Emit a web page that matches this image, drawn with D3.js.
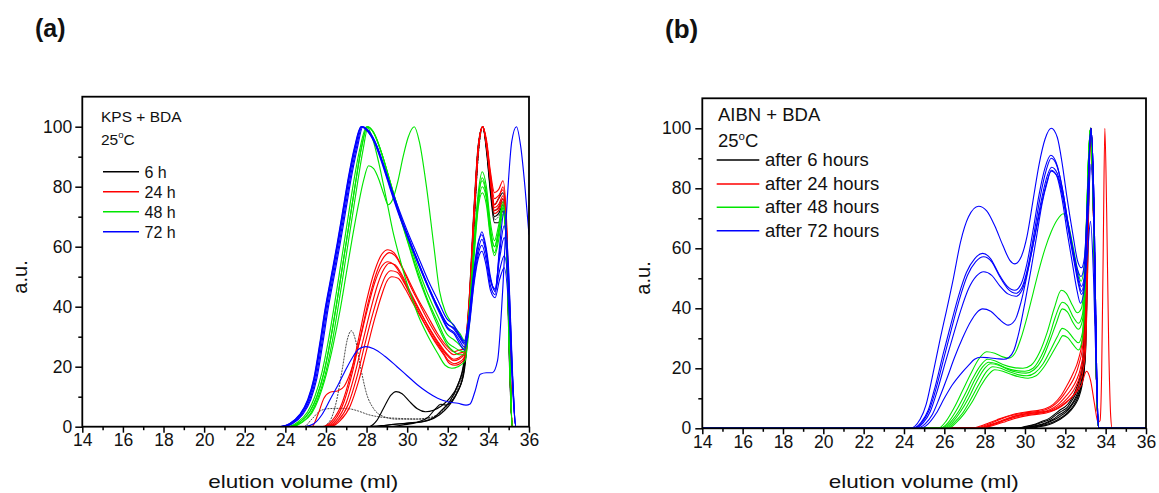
<!DOCTYPE html>
<html><head><meta charset="utf-8">
<script src="https://cdn.jsdelivr.net/npm/d3@7"></script>
<style>
html,body{margin:0;padding:0;background:#fff;}
svg text{font-family:Arial,"Liberation Sans",sans-serif;fill:#111;}
</style></head><body>
<svg id="fig" width="1159" height="493"></svg>
<script>
// ---- axis ticks ----
const xMajorTicks = [14,16,18,20,22,24,26,28,30,32,34,36];
const xMinorTicks = [15,17,19,21,23,25,27,29,31,33,35];
const yMajorTicks = [0,20,40,60,80,100];
const yMinorTicks = [10,30,50,70,90];

// ---- (a) KPS + BDA, elution traces [ml, a.u.] ----
const kps6h = [
  [[25.8,0],[26.2,2],[26.5,8],[26.8,19],[27.05,29],[27.25,32],[27.45,29],[27.7,20],[28.0,11],[28.35,6],[28.8,3.5],[29.5,2.5],[30.5,2.5],[31.2,3],[31.7,5],[32.1,8],[32.5,13],[32.8,20],[33.05,38],[33.3,70],[33.5,92],[33.7,100],[33.9,93],[34.1,80],[34.3,71],[34.5,72],[34.72,75],[34.9,62],[35.05,25],[35.18,0]],
  [[24.9,0],[25.3,2.5],[25.7,5.2],[26.1,6],[26.6,6.1],[27.1,6],[27.6,5.2],[28.1,4],[28.6,3.3],[29.5,2.8],[30.5,2.6],[31.2,3.2],[31.7,5],[32.1,8],[32.5,12],[32.8,19],[33.05,36],[33.3,68],[33.5,90],[33.72,100],[33.92,94],[34.1,82],[34.3,69],[34.5,70],[34.72,73],[34.9,60],[35.05,22],[35.18,0]],
  [[28.1,0],[28.5,2],[28.9,7],[29.2,10.5],[29.45,11.7],[29.75,11],[30.1,8.5],[30.5,6],[30.9,5],[31.3,5.5],[31.7,7],[32.1,9.5],[32.5,14],[32.8,21],[33.05,40],[33.3,72],[33.5,93],[33.72,100],[33.92,93],[34.1,81],[34.3,74],[34.5,76],[34.72,78],[34.9,64],[35.05,24],[35.18,0]],
  [[28.0,0],[29.0,0.5],[30.0,1.2],[30.8,1.8],[31.3,3],[31.7,5.5],[32.1,8.5],[32.5,14],[32.8,22],[33.05,42],[33.3,74],[33.5,94],[33.72,100],[33.92,92],[34.1,79],[34.3,70],[34.5,71],[34.72,74],[34.9,60],[35.05,20],[35.18,0]],
  [[29.2,0],[29.8,0.6],[30.5,1.5],[31.0,3],[31.4,6],[31.65,7.5],[31.9,7.2],[32.2,8.5],[32.5,12],[32.8,18],[33.05,37],[33.3,70],[33.5,92],[33.72,100],[33.92,91],[34.1,78],[34.3,68],[34.5,68],[34.72,72],[34.9,58],[35.05,18],[35.18,0]],
  [[28.4,0],[29.3,0.8],[30.2,1.2],[31.0,2],[31.6,4],[32.0,6.5],[32.4,10.5],[32.75,17],[33.0,32],[33.3,68],[33.5,91],[33.72,100],[33.92,93],[34.1,80],[34.3,72],[34.5,73],[34.72,76],[34.9,61],[35.05,22],[35.18,0]]
];
const kps24h = [
  [[25.8,0],[26.3,2],[26.8,8],[27.2,17],[27.6,29],[28.0,42],[28.4,52],[28.75,57.5],[29.05,59],[29.35,58],[29.7,54],[30.1,48.5],[30.5,43],[31.0,37],[31.5,31],[32.0,26.5],[32.3,25],[32.55,25.5],[32.8,26],[33.05,42],[33.3,73],[33.5,93],[33.72,100],[33.92,95],[34.1,85],[34.3,78],[34.5,79],[34.72,82],[34.9,68],[35.05,28],[35.18,0]],
  [[25.9,0],[26.4,2],[26.9,8.5],[27.3,18],[27.7,30],[28.1,42],[28.5,51.5],[28.85,56.5],[29.12,58],[29.4,57],[29.75,53],[30.15,47],[30.6,41],[31.1,34.5],[31.6,29],[32.0,25.5],[32.3,24],[32.55,24.5],[32.8,25],[33.05,41],[33.3,72],[33.5,93],[33.72,100],[33.92,94],[34.1,83],[34.3,74],[34.5,76],[34.72,80],[34.9,66],[35.05,26],[35.18,0]],
  [[25.3,0],[25.6,4],[25.9,9.5],[26.2,11.5],[26.6,12],[26.9,13.5],[27.2,18],[27.6,27],[28.0,38],[28.4,48],[28.75,53.5],[29.05,55],[29.35,54],[29.7,50.5],[30.1,45],[30.5,40],[31.0,34],[31.5,28.5],[32.0,24],[32.3,22.5],[32.55,23],[32.8,24.5],[33.05,40],[33.3,72],[33.5,93],[33.72,100],[33.92,94],[34.1,84],[34.3,76],[34.5,77],[34.72,79],[34.9,65],[35.05,25],[35.18,0]],
  [[26.0,0],[26.5,2],[27.0,8],[27.4,17],[27.8,28],[28.2,39],[28.55,47.5],[28.85,52.5],[29.12,54.5],[29.4,54],[29.75,50.5],[30.15,45],[30.6,39],[31.1,32.5],[31.6,27],[32.0,23.5],[32.3,22],[32.55,22.5],[32.8,24],[33.05,40],[33.3,72],[33.5,93],[33.72,100],[33.92,94],[34.1,83],[34.3,73],[34.5,74],[34.72,77],[34.9,63],[35.05,24],[35.18,0]],
  [[26.1,0],[26.6,2],[27.1,7.5],[27.5,16],[27.9,27],[28.3,37.5],[28.65,45.5],[28.95,50.5],[29.2,52],[29.5,51.5],[29.85,48],[30.25,42.5],[30.7,36.5],[31.2,30.5],[31.7,25.5],[32.05,22],[32.3,21],[32.55,21.5],[32.8,23],[33.05,39],[33.3,71],[33.5,92],[33.72,100],[33.92,93],[34.1,82],[34.3,72],[34.5,73],[34.72,76],[34.9,62],[35.05,23],[35.18,0]],
  [[26.2,0],[26.7,2],[27.2,7],[27.6,15],[28.0,25.5],[28.4,36],[28.75,44],[29.0,48.5],[29.25,50],[29.55,49.5],[29.9,46],[30.3,41],[30.8,35],[31.3,29],[31.8,24],[32.1,21],[32.35,20.5],[32.6,21],[32.85,23],[33.05,38],[33.3,70],[33.5,92],[33.72,100],[33.92,93],[34.1,82],[34.3,71],[34.5,72],[34.72,75],[34.9,61],[35.05,22],[35.18,0]]
];
const kps48h = [
  [[24.1,0],[24.6,1.5],[25.1,5],[25.45,10],[25.8,18],[26.1,28],[26.45,42],[26.75,55],[27.05,68],[27.35,81],[27.65,92],[28.0,100],[28.3,98.5],[28.7,92],[29.1,83],[29.5,74],[30.0,63.5],[30.5,53.5],[31.0,44.5],[31.5,37],[32.0,30.5],[32.3,29],[32.55,27.5],[32.8,26],[33.05,38],[33.3,62],[33.5,78],[33.7,85],[33.9,80],[34.1,68],[34.3,62],[34.5,67],[34.72,75],[34.9,62],[35.05,24],[35.18,0]],
  [[24.2,0],[24.7,1.5],[25.2,5],[25.55,10],[25.9,18],[26.2,28],[26.55,42],[26.85,55],[27.15,68],[27.45,81],[27.75,93],[28.05,100],[28.35,98],[28.75,91],[29.15,82],[29.55,72.5],[30.0,62.5],[30.5,52],[31.0,42.5],[31.5,35],[32.0,28],[32.3,26.5],[32.55,25.5],[32.8,25],[33.05,37],[33.3,60],[33.5,76],[33.7,83],[33.9,78],[34.1,66],[34.3,60],[34.5,65],[34.72,73],[34.9,60],[35.05,22],[35.18,0]],
  [[24.25,0],[24.75,1.3],[25.25,4.5],[25.6,9.5],[25.95,17],[26.3,28],[26.65,42],[26.95,55],[27.25,68],[27.55,81],[27.82,92],[28.08,100],[28.4,97.5],[28.8,90],[29.2,80.5],[29.6,71],[30.05,61],[30.55,50],[31.05,41],[31.55,33],[32.0,27],[32.3,25],[32.55,24],[32.8,24],[33.05,36],[33.3,59],[33.5,74],[33.7,80],[33.9,76],[34.1,64],[34.3,58],[34.5,64],[34.72,74],[34.9,60],[35.05,22],[35.18,0]],
  [[24.3,0],[24.8,1.3],[25.3,4.5],[25.65,9.5],[26.0,17],[26.35,27],[26.7,39],[27.0,51],[27.3,63],[27.6,74],[27.85,82],[28.1,87],[28.35,86],[28.6,82.5],[28.85,77.5],[29.06,74],[29.3,76],[29.55,82],[29.8,90],[30.05,96.5],[30.35,100],[30.6,95],[30.95,80],[31.3,61],[31.6,45],[31.9,38],[32.15,35],[32.6,31],[32.85,28.5],[33.05,38],[33.3,60],[33.5,76],[33.7,82],[33.9,77],[34.1,65],[34.3,60],[34.5,65],[34.72,73],[34.9,60],[35.05,22],[35.18,0]],
  [[24.2,0],[24.7,1.5],[25.2,5],[25.55,10],[25.9,18],[26.2,28],[26.55,42],[26.85,55],[27.15,68],[27.45,81],[27.75,93],[28.02,100],[28.3,96],[28.6,88],[28.85,80],[29.06,73],[29.3,65],[29.56,58],[30.0,47.5],[30.55,37],[31.0,30.5],[31.5,24.5],[31.87,20.5],[32.2,19.5],[32.5,20],[32.85,22],[33.05,33],[33.3,57],[33.5,73],[33.7,78],[33.9,74],[34.1,63],[34.3,57],[34.5,62],[34.72,71],[34.9,58],[35.05,21],[35.18,0]]
];
const kps72h = [
  [[23.7,0],[24.2,1],[24.7,4],[25.1,9],[25.4,16],[25.7,28],[25.95,39],[26.25,50],[26.55,61],[26.85,73],[27.1,83],[27.4,93],[27.72,100],[28.0,98.8],[28.4,94.5],[28.8,87],[29.2,78.5],[29.6,70.5],[30.0,63.5],[30.5,55],[31.0,47],[31.5,40],[31.95,34.5],[32.3,32.5],[32.6,29.5],[32.82,27.5],[33.05,36],[33.3,52],[33.5,61],[33.68,65],[33.88,60],[34.1,50],[34.33,45],[34.55,52],[34.78,57],[35.0,45],[35.2,14],[35.35,0]],
  [[23.75,0],[24.25,1],[24.75,4],[25.15,9],[25.45,16],[25.75,28],[26.0,39],[26.3,50],[26.6,61],[26.9,73],[27.15,83],[27.45,93],[27.75,100],[28.05,98.7],[28.45,94],[28.85,86.5],[29.25,78],[29.65,70],[30.05,63],[30.55,54.5],[31.05,46.5],[31.55,39.5],[32.0,34],[32.3,33],[32.6,30],[32.82,28],[33.05,36],[33.3,51],[33.5,59],[33.68,62.5],[33.88,58],[34.1,49],[34.33,46],[34.55,56],[34.78,63],[35.0,48],[35.2,15],[35.35,0]],
  [[23.8,0],[24.3,1],[24.8,4],[25.2,9],[25.5,16],[25.8,28],[26.05,39],[26.35,50],[26.65,61],[26.95,73],[27.2,83],[27.5,93],[27.78,100],[28.1,98.5],[28.5,93.5],[28.9,86],[29.3,77.5],[29.7,69.5],[30.1,62.5],[30.6,54],[31.1,46],[31.6,38.5],[32.0,33],[32.3,31.5],[32.6,28.5],[32.82,26.5],[33.05,34],[33.3,49],[33.5,57.5],[33.68,60.5],[33.88,56],[34.1,47],[34.33,44],[34.55,60],[34.78,72],[35.0,52],[35.2,16],[35.35,0]],
  [[23.85,0],[24.35,1],[24.85,4],[25.25,9],[25.55,16],[25.85,28],[26.1,39],[26.4,50],[26.7,61],[27.0,73],[27.25,83],[27.55,93],[27.82,100],[28.12,98.5],[28.52,93.5],[28.92,85.5],[29.32,77],[29.72,69],[30.12,62],[30.62,53.5],[31.12,45],[31.62,37.5],[32.0,32.5],[32.3,31],[32.6,27.5],[32.82,25.5],[33.05,33],[33.3,48],[33.5,56],[33.68,58.5],[33.88,54],[34.1,45.5],[34.33,43],[34.55,49],[34.78,53],[35.0,40],[35.2,12],[35.35,0]],
  [[23.72,0],[24.22,1],[24.72,4],[25.12,9],[25.42,16],[25.72,28],[25.97,39],[26.27,50],[26.57,61],[26.87,73],[27.12,83],[27.42,93],[27.74,100],[28.02,98.8],[28.42,94.7],[28.82,87.5],[29.22,79.5],[29.62,72],[30.02,65],[30.52,57],[31.02,49],[31.52,42],[31.95,36],[32.28,34],[32.55,31],[32.8,28.5],[33.05,37],[33.3,53],[33.5,61.5],[33.68,64],[33.88,59],[34.1,49],[34.33,45.5],[34.55,58],[34.78,67],[35.0,50],[35.2,15],[35.35,0]],
  [[24.9,0],[25.4,1],[25.8,4],[26.2,9],[26.6,14],[26.9,18],[27.3,23],[27.6,25.8],[27.95,26.7],[28.35,26],[28.9,23.5],[29.5,20],[30.0,17],[30.5,14],[31.0,11.5],[31.5,9.5],[32.0,8.3],[32.5,7.8],[32.9,7.2],[33.1,7.6],[33.35,12],[33.6,17.5],[33.9,18],[34.2,18],[34.45,22],[34.7,45],[34.95,78],[35.15,95],[35.38,100],[35.6,93],[35.8,80],[36.0,64]]
];

// ---- (b) AIBN + BDA, elution traces [ml, a.u.] ----
const aibn6h = [
  [[29.6,0],[30.0,0.6],[30.4,1.2],[30.8,2.2],[31.2,3.3],[31.5,4.8],[31.75,6.2],[32.0,7.2],[32.25,9.2],[32.5,12.5],[32.7,16.5],[32.85,22],[33.0,45],[33.12,80],[33.25,100],[33.4,70],[33.55,15],[33.65,0]],
  [[29.7,0],[30.1,0.6],[30.5,1.2],[30.9,2.1],[31.3,3.2],[31.6,4.8],[31.85,5.8],[32.1,7],[32.35,9.5],[32.55,12],[32.72,15.5],[32.87,21],[33.0,42],[33.12,78],[33.25,100],[33.4,70],[33.55,15],[33.65,0]],
  [[29.8,0],[30.2,0.5],[30.6,1],[31.0,1.8],[31.4,3],[31.7,4.5],[31.95,5.5],[32.2,7],[32.45,9.5],[32.65,12.5],[32.8,16],[32.92,22],[33.05,48],[33.15,82],[33.27,100],[33.42,70],[33.55,15],[33.65,0]],
  [[29.9,0],[30.3,0.5],[30.7,1],[31.1,1.8],[31.5,3],[31.8,4.3],[32.05,5.5],[32.3,7.5],[32.5,9.5],[32.68,12],[32.82,15],[32.95,21],[33.05,45],[33.15,80],[33.27,100],[33.42,70],[33.55,15],[33.65,0]],
  [[30.0,0],[30.4,0.4],[30.8,0.9],[31.2,1.6],[31.6,2.8],[31.9,4],[32.15,5.5],[32.4,7.5],[32.6,10],[32.75,13],[32.88,17],[32.98,24],[33.08,48],[33.17,82],[33.27,100],[33.42,70],[33.55,15],[33.65,0]],
  [[30.2,0],[30.6,0.4],[31.0,0.9],[31.4,1.8],[31.75,3],[32.0,4.2],[32.25,5.8],[32.5,8],[32.68,10.5],[32.82,14],[32.93,19],[33.02,28],[33.1,52],[33.18,84],[33.28,100],[33.42,70],[33.55,15],[33.65,0]]
];
const aibn24h = [
  [[27.4,0],[27.8,0.8],[28.2,1.8],[28.6,2.8],[29.0,3.8],[29.4,4.6],[29.8,5.2],[30.2,5.6],[30.6,5.9],[31.0,6.5],[31.4,8],[31.8,11],[32.1,14.5],[32.4,18.5],[32.65,23],[32.85,30],[33.0,50],[33.12,82],[33.25,100],[33.4,70],[33.55,15],[33.65,0]],
  [[27.55,0],[27.95,0.8],[28.35,1.8],[28.75,2.9],[29.15,3.9],[29.55,4.6],[29.95,5.1],[30.35,5.4],[30.75,5.7],[31.15,6.5],[31.55,8.3],[31.9,11],[32.2,14],[32.45,17],[32.68,21.5],[32.87,28],[33.0,48],[33.12,82],[33.25,100],[33.4,70],[33.55,15],[33.65,0]],
  [[27.65,0],[28.05,0.7],[28.45,1.6],[28.85,2.6],[29.25,3.6],[29.65,4.3],[30.05,4.8],[30.45,5.1],[30.85,5.5],[31.25,6.3],[31.65,8],[32.0,10.5],[32.3,13],[32.55,16],[32.75,20],[32.92,27],[33.05,50],[33.15,82],[33.27,100],[33.42,70],[33.55,15],[33.65,0]],
  [[27.75,0],[28.15,0.7],[28.55,1.5],[28.95,2.5],[29.35,3.4],[29.75,4.1],[30.15,4.6],[30.55,4.9],[30.95,5.3],[31.35,6.2],[31.75,7.8],[32.1,10],[32.4,12.5],[32.62,15.5],[32.8,19.5],[32.95,26],[33.07,50],[33.16,82],[33.27,100],[33.42,70],[33.55,15],[33.65,0]],
  [[27.85,0],[28.25,0.6],[28.65,1.4],[29.05,2.3],[29.45,3.2],[29.85,3.9],[30.25,4.4],[30.65,4.7],[31.05,5.1],[31.45,6],[31.85,7.5],[32.2,9.5],[32.5,12],[32.7,15],[32.87,19],[33.0,26],[33.1,50],[33.18,82],[33.28,100],[33.42,70],[33.55,15],[33.65,0]],
  [[27.9,0],[28.3,1],[28.7,2],[29.1,3],[29.5,4],[30.0,4.8],[30.5,5.2],[31.0,5.5],[31.5,6.3],[32.0,8.5],[32.4,11],[32.8,14.5],[33.05,19],[33.25,16],[33.45,8],[33.62,2],[33.72,2.5],[33.8,18],[33.88,60],[33.96,100],[34.05,72],[34.15,28],[34.25,4],[34.32,0]]
];
const aibn48h = [
  [[25.7,0],[26.1,2.5],[26.5,7],[26.9,12.5],[27.3,18],[27.7,23],[28.1,25.5],[28.5,25],[28.9,23.8],[29.2,23.4],[29.5,25],[29.8,30],[30.1,37],[30.4,45],[30.7,53],[31.0,60],[31.3,65.5],[31.6,69.5],[31.9,71.5],[32.15,68],[32.4,60],[32.6,53],[32.78,49],[32.95,55],[33.1,78],[33.25,100],[33.4,72],[33.55,15],[33.65,0]],
  [[25.8,0],[26.2,2],[26.6,6],[27.0,11],[27.4,16.5],[27.8,21],[28.15,23],[28.5,22.5],[28.9,21.3],[29.4,20.3],[29.9,20],[30.3,21],[30.7,25],[31.1,32],[31.45,40],[31.8,46],[32.05,45],[32.35,41],[32.6,38.5],[32.8,40],[32.98,55],[33.12,85],[33.25,100],[33.4,72],[33.55,15],[33.65,0]],
  [[25.9,0],[26.3,2],[26.7,5.5],[27.1,10.5],[27.5,16],[27.9,20.5],[28.2,22],[28.6,21.5],[29.0,20.3],[29.5,19.3],[30.0,19],[30.4,20],[30.8,24],[31.2,30.5],[31.5,37],[31.85,42],[32.1,41],[32.4,37],[32.65,35],[32.85,38],[33.0,55],[33.12,85],[33.25,100],[33.4,72],[33.55,15],[33.65,0]],
  [[26.0,0],[26.4,2],[26.8,5.5],[27.2,10],[27.6,15.5],[28.0,20],[28.3,21.5],[28.7,21],[29.1,19.8],[29.6,18.7],[30.05,18.4],[30.45,19.5],[30.85,23],[31.25,29.5],[31.55,35],[31.85,39.8],[32.1,38.8],[32.4,35],[32.65,33],[32.85,36],[33.0,54],[33.12,85],[33.25,100],[33.4,72],[33.55,15],[33.65,0]],
  [[26.1,0],[26.5,2],[26.9,5],[27.3,9.5],[27.7,14.5],[28.1,19],[28.4,20.5],[28.8,20],[29.2,18.9],[29.7,17.8],[30.1,17.5],[30.5,18.5],[30.9,21.5],[31.3,26.5],[31.6,30.5],[31.85,33.3],[32.1,32.5],[32.4,30],[32.65,28.5],[32.85,32],[33.0,52],[33.12,84],[33.25,100],[33.4,72],[33.55,15],[33.65,0]],
  [[26.2,0],[26.6,2],[27.0,5],[27.4,9],[27.8,14],[28.2,18],[28.5,19.5],[28.9,19],[29.3,18],[29.8,17],[30.15,16.7],[30.55,17.5],[30.95,20.5],[31.35,25],[31.65,28.5],[31.88,30.9],[32.12,30.2],[32.4,27.8],[32.65,26.1],[32.85,30],[33.0,50],[33.12,84],[33.25,100],[33.4,72],[33.55,15],[33.65,0]]
];
const aibn72h = [
  [[24.3,0],[24.8,3],[25.1,8],[25.4,17],[25.8,30],[26.1,39],[26.45,50],[26.8,62],[27.2,70.5],[27.7,74],[28.1,72.5],[28.5,67.5],[28.9,61],[29.25,56],[29.5,54.8],[29.8,57],[30.1,64],[30.4,76],[30.7,88],[31.0,96.5],[31.3,100],[31.6,97],[31.85,88],[32.06,78],[32.39,64],[32.6,56],[32.8,53.5],[32.95,57],[33.1,76],[33.27,100],[33.42,75],[33.55,20],[33.65,0]],
  [[24.4,0],[24.85,2],[25.2,6],[25.55,14],[25.95,25],[26.3,34],[26.7,44],[27.1,52],[27.5,56.5],[27.9,58.3],[28.3,56.5],[28.7,51.5],[29.1,47.5],[29.5,46],[29.8,48],[30.1,55],[30.4,66],[30.7,78],[31.0,87],[31.28,91],[31.55,88.5],[31.85,80],[32.1,70],[32.4,59],[32.6,53],[32.78,50.6],[32.95,55],[33.1,76],[33.27,100],[33.42,75],[33.55,20],[33.65,0]],
  [[24.45,0],[24.9,2],[25.25,6],[25.6,13.5],[26.0,24],[26.35,33],[26.75,43],[27.15,51],[27.55,55.5],[27.95,57.2],[28.35,55.5],[28.75,50.5],[29.15,46.5],[29.55,45],[29.85,47],[30.15,54],[30.45,65],[30.75,77],[31.05,86],[31.3,90],[31.58,87.5],[31.88,79],[32.12,69],[32.42,57.5],[32.62,51],[32.8,47.3],[32.97,52],[33.12,70],[33.27,88],[33.42,66],[33.55,18],[33.65,0]],
  [[24.5,0],[24.95,1.8],[25.3,5.5],[25.65,12.5],[26.05,22],[26.4,30],[26.8,39],[27.2,46.5],[27.6,50.8],[27.95,52.2],[28.35,51],[28.75,47.5],[29.15,44.8],[29.55,44],[29.85,46],[30.15,53],[30.45,63],[30.75,74],[31.05,83],[31.32,87],[31.6,85],[31.9,77],[32.15,67],[32.45,56],[32.65,49],[32.8,45.7],[32.97,51],[33.12,76],[33.27,100],[33.42,75],[33.55,20],[33.65,0]],
  [[24.6,0],[25.05,1.5],[25.4,4.5],[25.75,10],[26.15,17],[26.5,23.5],[26.9,30],[27.3,35.5],[27.6,38.5],[27.9,39.8],[28.3,39],[28.7,36.5],[29.17,34.4],[29.5,36],[29.8,42],[30.1,51],[30.4,61],[30.7,71],[31.0,80],[31.3,85.7],[31.6,84],[31.9,76],[32.15,66],[32.45,55],[32.65,48],[32.8,44.6],[32.97,49],[33.12,60],[33.25,69],[33.4,50],[33.55,14],[33.65,0]],
  [[24.8,0],[25.2,1.5],[25.6,5],[26.0,10],[26.4,14.5],[26.8,18],[27.2,21],[27.5,23],[27.8,23.7],[28.2,23.5],[28.6,23.2],[28.95,23],[29.2,23.6],[29.45,26],[29.7,32],[30.0,42],[30.3,53],[30.6,65],[30.85,75],[31.1,82],[31.3,86],[31.55,84.5],[31.85,76],[32.1,65],[32.35,55],[32.55,47],[32.75,41.7],[32.95,47],[33.1,75],[33.27,100],[33.42,75],[33.55,20],[33.65,0]]
];

// ---- legend labels ----
const legendA = ["6 h", "24 h", "48 h", "72 h"];
const legendB = ["after 6 hours", "after 24 hours", "after 48 hours", "after 72 hours"];
const seriesColors = ["#000000", "#ff0000", "#00e600", "#0000ff"];

const svg = d3.select("#fig");

// extend each trace along the baseline to the ends of the axis
function toBaseline(pts) {
  const out = [];
  if (pts[0][0] > 14) out.push([14, 0]);
  pts.forEach(p => out.push(p));
  if (pts[pts.length - 1][0] < 36) out.push([36, 0]);
  return out;
}

function drawPanel(P) {
  const g = svg.append("g");
  const x = d3.scaleLinear().domain([14, 36]).range([P.left, P.right]);
  const y = d3.scaleLinear().domain([0, 110]).range([P.bottom, P.top]);

  g.append("clipPath").attr("id", P.id + "-clip")
    .append("rect").attr("x", P.left).attr("y", P.top)
    .attr("width", P.right - P.left).attr("height", P.bottom - P.top);

  const line = d3.line().x(d => x(d[0])).y(d => y(d[1])).curve(d3.curveMonotoneX);
  const traces = g.append("g").attr("clip-path", `url(#${P.id}-clip)`);
  P.groups.forEach((grp, gi) => {
    grp.forEach((c, ci) => {
      const p = traces.append("path")
        .attr("d", line(toBaseline(c)))
        .attr("fill", "none")
        .attr("stroke", seriesColors[gi])
        .attr("stroke-width", P.lineWidth)
        .attr("stroke-linejoin", "round");
      if (P.thinDash && gi === 0 && ci < 2) {
        p.attr("stroke", "#333").attr("stroke-width", 0.9).attr("stroke-dasharray", "2,1");
      }
    });
  });

  // axes
  const ax = g.append("g").attr("transform", `translate(0,${P.bottom})`)
    .call(d3.axisBottom(x).tickValues(xMajorTicks).tickFormat(d3.format("d"))
      .tickSizeInner(6).tickSizeOuter(0).tickPadding(1));
  g.append("g").attr("transform", `translate(0,${P.bottom})`)
    .call(d3.axisBottom(x).tickValues(xMinorTicks).tickFormat("")
      .tickSizeInner(3.5).tickSizeOuter(0));
  const ay = g.append("g").attr("transform", `translate(${P.left},0)`)
    .call(d3.axisLeft(y).tickValues(yMajorTicks).tickFormat(d3.format("d"))
      .tickSizeInner(7).tickSizeOuter(0).tickPadding(P.yPad));
  g.append("g").attr("transform", `translate(${P.left},0)`)
    .call(d3.axisLeft(y).tickValues(yMinorTicks).tickFormat("")
      .tickSizeInner(4).tickSizeOuter(0));
  g.selectAll(".domain").remove();
  g.selectAll(".tick line").attr("stroke", "#000").attr("stroke-width", 1.5);
  g.selectAll(".tick text").attr("font-size", 17.5).attr("fill", "#111")
    .attr("font-family", "Arial, 'Liberation Sans', sans-serif");

  // frame
  g.append("rect").attr("x", P.left).attr("y", P.top)
    .attr("width", P.right - P.left).attr("height", P.bottom - P.top)
    .attr("fill", "none").attr("stroke", "#000").attr("stroke-width", 1.8);

  // axis titles
  g.append("text").attr("x", (P.left + P.right) / 2 + P.titleDx).attr("y", 487.5)
    .attr("text-anchor", "middle").attr("font-size", 19)
    .attr("textLength", 190).attr("lengthAdjust", "spacingAndGlyphs")
    .text("elution volume (ml)");
  g.append("text").attr("transform", `translate(${P.yTitleX},${P.yTitleY}) rotate(-90)`)
    .attr("text-anchor", "middle").attr("font-size", 20).text("a.u.");

  // panel letter
  g.append("text").attr("x", P.letterX).attr("y", P.letterY)
    .attr("font-size", P.letterSize).attr("font-weight", "bold").text(P.letter);

  // sample annotation
  g.append("text").attr("x", P.noteX).attr("y", P.noteY1)
    .attr("font-size", P.noteSize).text(P.note);
  const t = g.append("text").attr("x", P.noteX).attr("y", P.noteY2).attr("font-size", P.noteSize);
  t.append("tspan").text("25");
  t.append("tspan").attr("font-size", P.noteSize * 0.62).attr("dy", -P.noteSize * 0.42).text("o");
  t.append("tspan").attr("dy", P.noteSize * 0.42).text("C");

  // legend
  P.legend.forEach((lab, i) => {
    const ly = P.legY[i];
    g.append("line").attr("x1", P.legX1).attr("x2", P.legX2).attr("y1", ly).attr("y2", ly)
      .attr("stroke", seriesColors[i]).attr("stroke-width", 1.6);
    g.append("text").attr("x", P.legTextX).attr("y", ly + P.legTextDy)
      .attr("font-size", P.legSize).text(lab);
  });
}

drawPanel({
  id: "pa", left: 82.3, right: 529, top: 96.7, bottom: 426.7,
  groups: [kps6h, kps24h, kps48h, kps72h], lineWidth: 1.15, thinDash: true,
  yPad: 3, titleDx: -2.5, yTitleX: 27, yTitleY: 277,
  letter: "(a)", letterX: 35, letterY: 36.5, letterSize: 25,
  note: "KPS + BDA", noteX: 101, noteY1: 121.7, noteY2: 145, noteSize: 15.5,
  legend: legendA, legY: [171.7, 191.7, 211.7, 231.7], legX1: 103, legX2: 139,
  legTextX: 144.5, legTextDy: 6.5, legSize: 16
});
drawPanel({
  id: "pb", left: 702.3, right: 1146, top: 98.3, bottom: 428.3,
  groups: [aibn6h, aibn24h, aibn48h, aibn72h], lineWidth: 1.1, thinDash: false,
  yPad: 4, titleDx: -0.5, yTitleX: 650, yTitleY: 278,
  letter: "(b)", letterX: 665, letterY: 37.5, letterSize: 26,
  note: "AIBN + BDA", noteX: 718, noteY1: 120.7, noteY2: 147.3, noteSize: 18.5,
  legend: legendB, legY: [160, 184, 207.3, 230.7], legX1: 716.7, legX2: 759.3,
  legTextX: 765, legTextDy: 6, legSize: 18.5
});
</script></body></html>
